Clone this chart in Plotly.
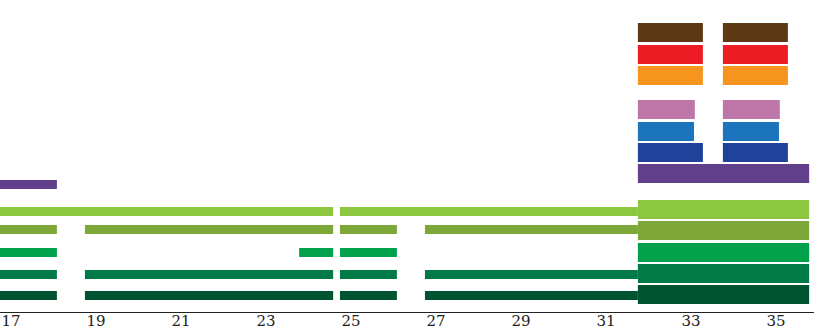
import plotly.graph_objects as go

# ---- data: segments (start, end) on the x scale ----
tick_values = [17, 19, 21, 23, 25, 27, 29, 31, 33, 35]
tick_labels = ["17", "19", "21", "23", "25", "27", "29", "31", "33", "35"]

# thin rows (left part)
purple_thin = [(16.5, 18.08)]
lightgreen_thin = [(16.5, 24.58), (24.74, 31.75)]
olive_thin = [(16.5, 18.08), (18.74, 24.58), (24.74, 26.08), (26.74, 31.75)]
green_thin = [(16.5, 18.08), (23.78, 24.58), (24.74, 26.08)]
midgreen_thin = [(16.5, 18.08), (18.74, 24.58), (24.74, 26.08), (26.74, 31.75)]
darkgreen_thin = [(16.5, 18.08), (18.74, 24.58), (24.74, 26.08), (26.74, 31.75)]

# thick rows (right part)
purple_thick = [(31.75, 35.78)]
lightgreen_thick = [(31.75, 35.78)]
olive_thick = [(31.75, 35.78)]
green_thick = [(31.75, 35.78)]
midgreen_thick = [(31.75, 35.78)]
darkgreen_thick = [(31.75, 35.78)]
darkblue_thick = [(31.75, 33.28), (33.75, 35.28)]
blue_thick = [(31.75, 33.07), (33.75, 35.07)]
pink_thick = [(31.75, 33.09), (33.75, 35.09)]
orange_thick = [(31.75, 33.28), (33.75, 35.28)]
red_thick = [(31.75, 33.28), (33.75, 35.28)]
brown_thick = [(31.75, 33.28), (33.75, 35.28)]

# ---- layout / style (row positions on a reversed hidden axis) ----
C = {
    "purple": "#623F8B", "lightgreen": "#8DC63F", "olive": "#7EA73A",
    "green": "#00A14B", "midgreen": "#007A47", "darkgreen": "#005432",
    "darkblue": "#21429A", "blue": "#1C75BC", "pink": "#BE76A8",
    "orange": "#F7941E", "red": "#ED1C24", "brown": "#5E3915",
}
THIN, THICK = 9, 19

rows = [
    (purple_thin, C["purple"], 184.5, THIN),
    (lightgreen_thin, C["lightgreen"], 211.5, THIN),
    (olive_thin, C["olive"], 229.5, THIN),
    (green_thin, C["green"], 252.5, THIN),
    (midgreen_thin, C["midgreen"], 274.5, THIN),
    (darkgreen_thin, C["darkgreen"], 295.5, THIN),
    (purple_thick, C["purple"], 173.5, THICK),
    (lightgreen_thick, C["lightgreen"], 209.5, THICK),
    (olive_thick, C["olive"], 230.5, THICK),
    (green_thick, C["green"], 252.5, THICK),
    (midgreen_thick, C["midgreen"], 273.5, THICK),
    (darkgreen_thick, C["darkgreen"], 294.5, THICK),
    (darkblue_thick, C["darkblue"], 152.5, THICK),
    (blue_thick, C["blue"], 131.5, THICK),
    (pink_thick, C["pink"], 109.5, THICK),
    (orange_thick, C["orange"], 75.5, THICK),
    (red_thick, C["red"], 54.5, THICK),
    (brown_thick, C["brown"], 32.5, THICK),
]

fig = go.Figure()
for segs, color, ypos, th in rows:
    fig.add_trace(go.Bar(
        orientation="h",
        x=[e - s for s, e in segs],
        base=[s for s, e in segs],
        y=[ypos] * len(segs),
        width=th,
        marker=dict(color=color, line=dict(width=0)),
        showlegend=False,
        hoverinfo="skip",
    ))

x0 = 17 - 11 / 42.5
x1 = x0 + 814 / 42.5
fig.update_layout(
    width=814, height=330,
    margin=dict(l=0, r=0, t=0, b=18),
    paper_bgcolor="white", plot_bgcolor="white",
    barmode="overlay",
    xaxis=dict(
        range=[x0, x1], tickvals=tick_values, ticktext=tick_labels,
        showgrid=False, zeroline=False, showline=True, automargin=False,
        linecolor="#222222", linewidth=1, ticks="", ticklabelstandoff=-5,
        tickfont=dict(family="DejaVu Serif", size=15, color="#222222"),
    ),
    yaxis=dict(range=[312, 0], visible=False, showgrid=False, zeroline=False,
               automargin=False),
)
fig.write_html("out.html")
